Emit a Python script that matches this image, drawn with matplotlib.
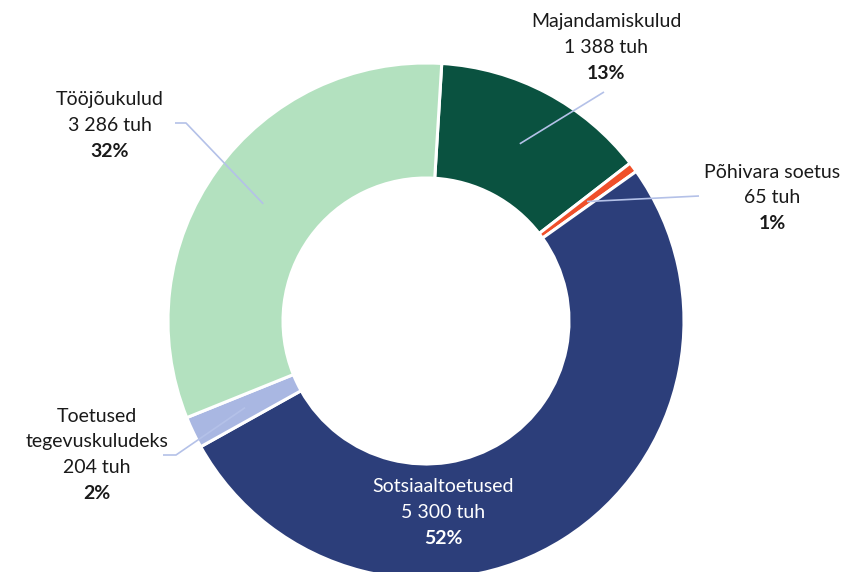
import numpy as np
import matplotlib
matplotlib.use("Agg")
import matplotlib.pyplot as plt

plt.rcParams["font.family"] = ["Lato", "DejaVu Sans"]

# Kulude struktuur (tuh eurot)
categories = ["Majandamiskulud", "Põhivara soetus", "Sotsiaaltoetused",
              "Toetused\ntegevuskuludeks", "Tööjõukulud"]
values = [1388, 65, 5300, 204, 3286]
amount_labels = ["1 388 tuh", "65 tuh", "5 300 tuh", "204 tuh", "3 286 tuh"]
percent_labels = ["13%", "1%", "52%", "2%", "32%"]
colors = ["#0A5240", "#F0502A", "#2C3E7A", "#A9B7E2", "#B3E1BF"]

W, H = 845, 572
fig = plt.figure(figsize=(W / 100, H / 100), dpi=100)
ax = fig.add_axes([0, 0, 1, 1])

cx, cy = 426, H - 321
R_out, ring = 258, 115
start = 86.5

wedges, _ = ax.pie(values, colors=colors, startangle=start, counterclock=False,
                   radius=R_out, center=(cx, cy),
                   wedgeprops=dict(width=ring, edgecolor="white", linewidth=2.2))

ax.set_xlim(0, W)
ax.set_ylim(0, H)
ax.set_aspect("equal")
ax.axis("off")

total = sum(values)
line_col = "#B4C1E8"
r_mid = R_out - ring / 2

def anchor(i):
    before = sum(values[:i])
    mid = start - 360 * (before + values[i] / 2) / total
    a = np.deg2rad(mid)
    return cx + r_mid * np.cos(a), cy + r_mid * np.sin(a)

# label text centres and leader line start points (pixel coordinates from top)
text_pos = {0: (606, 22), 1: (772, 172), 3: (97, 416), 4: (110, 100)}
leader = {0: [(604, 92)], 1: [(699, 196)], 3: [(163, 455), (176, 455)],
          4: [(175, 123), (186, 123)]}

fs = 14
lh = 25.8
for i, name in enumerate(categories):
    if i == 2:
        tx, ty, col = 443, 487, "white"
    else:
        tx, ty = text_pos[i]
        col = "#1A1A1A"
    lines = name.split("\n") + [amount_labels[i]]
    for k, ln in enumerate(lines):
        ax.text(tx, H - (ty + k * lh), ln, ha="center", va="center",
                fontsize=fs, color=col)
    ax.text(tx, H - (ty + len(lines) * lh), percent_labels[i], ha="center",
            va="center", fontsize=fs, fontweight="bold", color=col)
    if i in leader:
        pts = [(x, H - y) for x, y in leader[i]] + [anchor(i)]
        xs, ys = zip(*pts)
        ax.plot(xs, ys, color=line_col, lw=1.2, solid_capstyle="butt", zorder=5)

fig.savefig("out.png", dpi=100)
